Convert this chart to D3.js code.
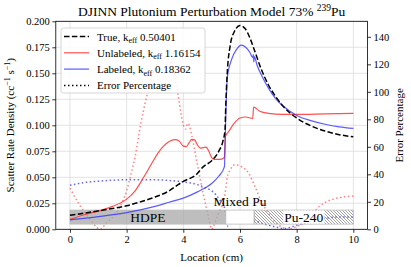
<!DOCTYPE html>
<meta charset="utf-8">
<style>
body { margin: 0; background: #fff; }
svg text { font-family: "Liberation Serif", "Times New Roman", serif; }
.grid line { stroke: #dcdcdc; stroke-width: 0.8px; }
.axis path, .axis line { stroke: #000; stroke-width: 0.8px; }
.axis text { font-size: 10.5px; fill: #000; }
</style>
<svg width="411" height="267"></svg>
<script src="https://cdnjs.cloudflare.com/ajax/libs/d3/7.8.5/d3.min.js"></script>
<script>
// curves: [location cm, value]
const trueCurve = [[0,0.0135],[0.5,0.0155],[1.06,0.018],[1.5,0.020],[2,0.0226],[2.5,0.0265],[3,0.031],[3.5,0.037],[3.82,0.043],[4,0.046],[4.47,0.053],[4.7,0.060],[5,0.066],[5.25,0.075],[5.4,0.085],[5.47,0.095],[5.5,0.12],[5.55,0.15],[5.65,0.176],[5.8,0.19],[6.0,0.196],[6.18,0.193],[6.35,0.184],[6.5,0.173],[6.75,0.154],[7,0.139],[7.25,0.128],[7.5,0.119],[8,0.107],[8.5,0.0995],[9,0.0945],[9.5,0.091],[10,0.089]];
const unlabeled = [[0,0.0095],[0.5,0.014],[1.06,0.018],[1.5,0.022],[2,0.029],[2.3,0.037],[2.6,0.050],[2.9,0.064],[3.1,0.073],[3.3,0.080],[3.5,0.0845],[3.7,0.0862],[3.85,0.085],[4.0,0.080],[4.1,0.0795],[4.2,0.083],[4.3,0.0865],[4.4,0.086],[4.5,0.081],[4.6,0.078],[4.7,0.0785],[4.8,0.079],[4.9,0.075],[5.0,0.069],[5.1,0.0672],[5.3,0.0672],[5.45,0.069],[5.48,0.089],[5.6,0.094],[5.8,0.102],[6.0,0.107],[6.2,0.108],[6.45,0.1065],[6.48,0.1175],[6.7,0.1135],[7.0,0.1115],[7.5,0.1105],[8,0.1105],[9,0.111],[10,0.1115]];
const labeled = [[0,0.009],[1,0.0122],[2,0.016],[3,0.022],[3.5,0.026],[4,0.030],[4.5,0.036],[5,0.044],[5.25,0.051],[5.45,0.060],[5.5,0.11],[5.55,0.145],[5.7,0.163],[5.88,0.173],[6.05,0.177],[6.2,0.175],[6.35,0.17],[6.45,0.165],[6.47,0.168],[6.49,0.161],[6.51,0.166],[6.6,0.158],[6.8,0.146],[7,0.136],[7.25,0.126],[7.5,0.119],[8,0.1095],[8.5,0.1045],[9,0.101],[9.5,0.0985],[10,0.097]];
// error percentages (right axis)
const unlabeledErr = [[0,30],[0.3,19],[0.6,10],[0.85,3.5],[1.06,0],[1.3,5],[1.6,11],[1.85,20],[2.0,28],[2.15,40],[2.3,53],[2.5,77],[2.7,96],[2.9,112],[3.1,121],[3.35,125],[3.55,121],[3.7,110],[3.82,97],[3.92,84],[4.0,76],[4.08,73],[4.15,77],[4.22,75],[4.3,68],[4.47,50],[4.7,26],[4.9,8],[5.0,0],[5.15,7],[5.3,14],[5.45,23],[5.5,30],[5.55,38],[5.65,43],[5.82,47],[6.06,45.5],[6.3,41],[6.53,31],[6.76,20],[7.0,12],[7.2,6],[7.4,2.5],[7.7,0],[8.0,2],[8.23,4.4],[8.5,10],[8.82,17],[9.1,20.5],[9.41,22.6],[10,24.2]];
const labeledErr = [[0,32],[0.5,34],[1,35],[2,36],[3,36],[3.5,35.5],[4,34.5],[4.5,32.5],[4.8,30],[5.0,28],[5.3,21],[5.45,16],[5.5,9],[5.55,2],[5.65,9],[5.8,11],[6.0,10],[6.3,8],[6.5,6.5],[6.75,4.5],[7.0,3],[7.3,1.5],[7.55,0.5],[7.8,1.5],[8.0,3],[8.3,4.5],[8.6,6.5],[9,8],[9.5,9],[10,9]];

const regions = [
    {name: 'HDPE', x0: 0, x1: 5.5, kind: 'gray'},
    {name: 'Mixed Pu', x0: 5.5, x1: 6.5, kind: 'white'},
    {name: 'Pu-240', x0: 6.5, x1: 10, kind: 'hatch'}
];
const regionY = [0.005, 0.0185];

const xTicks = [0, 2, 4, 6, 8, 10];
const yTicks = [0, 0.025, 0.05, 0.075, 0.1, 0.125, 0.15, 0.175, 0.2];
const errTicks = [0, 20, 40, 60, 80, 100, 120, 140];

const legendItems = [
    {label: 'True, k', sub: 'eff', val: ' 0.50401', color: '#000', dash: '5.5,2.4', width: 1.5, opacity: 1},
    {label: 'Unlabeled, k', sub: 'eff', val: ' 1.16154', color: '#ff3333', dash: null, width: 1.2, opacity: 0.85},
    {label: 'Labeled, k', sub: 'eff', val: ' 0.18362', color: '#3333ff', dash: null, width: 1.2, opacity: 0.8},
    {label: 'Error Percentage', sub: '', val: '', color: '#000', dash: '1.5,2.5', width: 1.5, opacity: 1}
];

const serif = '"Liberation Serif", "Times New Roman", serif';

let svg = d3.select('svg');
let m = {left: 55.8, right: 367.5, top: 21.3, bottom: 229.3};

let x = d3.scaleLinear().domain([-0.5, 10.5]).range([m.left, m.right]);
let y = d3.scaleLinear().domain([0, 0.2]).range([m.bottom, m.top]);
let y2 = d3.scaleLinear().domain([0, 151.3]).range([m.bottom, m.top]);

let defs = svg.append('defs');
defs.append('clipPath').attr('id', 'clip')
    .append('rect')
    .attr('x', m.left).attr('y', m.top)
    .attr('width', m.right - m.left).attr('height', m.bottom - m.top);
let hatch = defs.append('pattern').attr('id', 'hatch')
    .attr('patternUnits', 'userSpaceOnUse')
    .attr('width', 3).attr('height', 3);
hatch.append('path').attr('d', 'M-1,-1 L4,4 M-1,2 L1,4 M2,-1 L4,1')
    .attr('stroke', '#666').attr('stroke-width', 0.6);

// grid
let grid = svg.append('g').attr('class', 'grid');
grid.selectAll('.gx').data(xTicks).enter().append('line')
    .attr('x1', d => x(d)).attr('x2', d => x(d))
    .attr('y1', m.top).attr('y2', m.bottom);
grid.selectAll('.gy').data(yTicks).enter().append('line')
    .attr('x1', m.left).attr('x2', m.right)
    .attr('y1', d => y(d)).attr('y2', d => y(d));

let plot = svg.append('g').attr('clip-path', 'url(#clip)');

let line1 = d3.line().x(d => x(d[0])).y(d => y(d[1])).curve(d3.curveMonotoneX);
let line2 = d3.line().x(d => x(d[0])).y(d => y2(d[1])).curve(d3.curveMonotoneX);

// error curves
plot.append('path').datum(unlabeledErr).attr('d', line2)
    .attr('fill', 'none').attr('stroke', '#ff3333').attr('stroke-opacity', 0.6)
    .attr('stroke-width', 1.5).attr('stroke-dasharray', '1.5,2.5');
plot.append('path').datum(labeledErr).attr('d', line2)
    .attr('fill', 'none').attr('stroke', '#3333ff').attr('stroke-opacity', 0.75)
    .attr('stroke-width', 1.5).attr('stroke-dasharray', '1.5,2.5');

// material regions
plot.selectAll('.region').data(regions).enter().append('rect')
    .attr('x', d => x(d.x0))
    .attr('width', d => x(d.x1) - x(d.x0))
    .attr('y', y(regionY[1]))
    .attr('height', y(regionY[0]) - y(regionY[1]))
    .attr('fill', d => d.kind == 'gray' ? '#a8a8a8' : d.kind == 'white' ? '#fff' : 'url(#hatch)')
    .attr('fill-opacity', d => d.kind == 'gray' ? 0.75 : 1)
    .attr('stroke', '#bbb').attr('stroke-width', 0.8);

// main curves
plot.append('path').datum(unlabeled).attr('d', line1)
    .attr('fill', 'none').attr('stroke', '#ff3333').attr('stroke-opacity', 0.85).attr('stroke-width', 1.2);
plot.append('path').datum(labeled).attr('d', line1)
    .attr('fill', 'none').attr('stroke', '#3333ff').attr('stroke-opacity', 0.8).attr('stroke-width', 1.2);
plot.append('path').datum(trueCurve).attr('d', line1)
    .attr('fill', 'none').attr('stroke', '#000').attr('stroke-width', 1.5)
    .attr('stroke-dasharray', '5.5,2.4');

// region labels
let midY = y((regionY[0] + regionY[1]) / 2);
svg.append('text').attr('x', x(2.75)).attr('y', midY + 4.5)
    .attr('text-anchor', 'middle').attr('font-size', 13.5).text('HDPE');
svg.append('text').attr('x', x(6.0)).attr('y', y(0.0225))
    .attr('text-anchor', 'middle').attr('font-size', 13.5).text('Mixed Pu');
let puText = svg.append('text').attr('x', x(8.25)).attr('y', midY + 4.5)
    .attr('text-anchor', 'middle').attr('font-size', 13.5).text('Pu-240');
let bb = puText.node().getBBox();
svg.insert('rect', () => puText.node())
    .attr('x', bb.x - 1).attr('y', y(regionY[1]) + 0.5)
    .attr('width', bb.width + 2).attr('height', y(regionY[0]) - y(regionY[1]) - 1)
    .attr('fill', '#fff');

// axes
svg.append('g').attr('class', 'axis')
    .attr('transform', `translate(0,${m.bottom})`)
    .call(d3.axisBottom(x).tickValues(xTicks).tickSize(3.5).tickPadding(2.5).tickFormat(d3.format('d')))
    .call(g => g.select('.domain').remove())
    .attr('font-family', serif).attr('font-size', 10.5);
svg.append('g').attr('class', 'axis')
    .attr('transform', `translate(${m.left},0)`)
    .call(d3.axisLeft(y).tickValues(yTicks).tickSize(3.5).tickPadding(2.5).tickFormat(d3.format('.3f')))
    .call(g => g.select('.domain').remove())
    .attr('font-family', serif).attr('font-size', 10.5);
svg.append('g').attr('class', 'axis')
    .attr('transform', `translate(${m.right},0)`)
    .call(d3.axisRight(y2).tickValues(errTicks).tickSize(3.5).tickPadding(2.5).tickFormat(d3.format('d')))
    .call(g => g.select('.domain').remove())
    .attr('font-family', serif).attr('font-size', 10.5);
svg.append('rect')
    .attr('x', m.left).attr('y', m.top)
    .attr('width', m.right - m.left).attr('height', m.bottom - m.top)
    .attr('fill', 'none').attr('stroke', '#000').attr('stroke-width', 0.8);

// titles
let title = svg.append('text').attr('x', (m.left + m.right) / 2).attr('y', 16)
    .attr('text-anchor', 'middle').attr('font-size', 13.5);
title.append('tspan').text('DJINN Plutonium Perturbation Model 73% ');
title.append('tspan').attr('font-size', 9.5).attr('dy', -5).text('239');
title.append('tspan').attr('dy', 5).text('Pu');

svg.append('text').attr('x', (m.left + m.right) / 2).attr('y', 261)
    .attr('text-anchor', 'middle').attr('font-size', 11).text('Location (cm)');

let yl = svg.append('text')
    .attr('transform', `translate(14,${(m.top + m.bottom) / 2}) rotate(-90)`)
    .attr('text-anchor', 'middle').attr('font-size', 11);
yl.append('tspan').text('Scatter Rate Density (cc');
yl.append('tspan').attr('font-size', 8).attr('dy', -4).text('−1');
yl.append('tspan').attr('dy', 4).text(' s');
yl.append('tspan').attr('font-size', 8).attr('dy', -4).text('−1');
yl.append('tspan').attr('dy', 4).text(')');

svg.append('text')
    .attr('transform', `translate(403,${(m.top + m.bottom) / 2}) rotate(-90)`)
    .attr('text-anchor', 'middle').attr('font-size', 11).text('Error Percentage');

// legend
let lg = svg.append('g').attr('transform', 'translate(61,28)');
lg.append('rect').attr('width', 144).attr('height', 65).attr('rx', 2.5)
    .attr('fill', '#fff').attr('fill-opacity', 0.85)
    .attr('stroke', '#ccc').attr('stroke-width', 0.8);
let row = lg.selectAll('.row').data(legendItems).enter().append('g')
    .attr('transform', (d, i) => `translate(0,${8.5 + i * 16.3})`);
row.append('line').attr('x1', 3).attr('x2', 28)
    .attr('stroke', d => d.color).attr('stroke-opacity', d => d.opacity)
    .attr('stroke-width', d => d.width)
    .attr('stroke-dasharray', d => d.dash);
let lt = row.append('text').attr('x', 36).attr('y', 4).attr('font-size', 11);
lt.append('tspan').text(d => d.label);
lt.append('tspan').attr('font-size', 8).attr('dy', 2.5).text(d => d.sub);
lt.append('tspan').attr('dy', -2.5).text(d => d.val);
</script>
